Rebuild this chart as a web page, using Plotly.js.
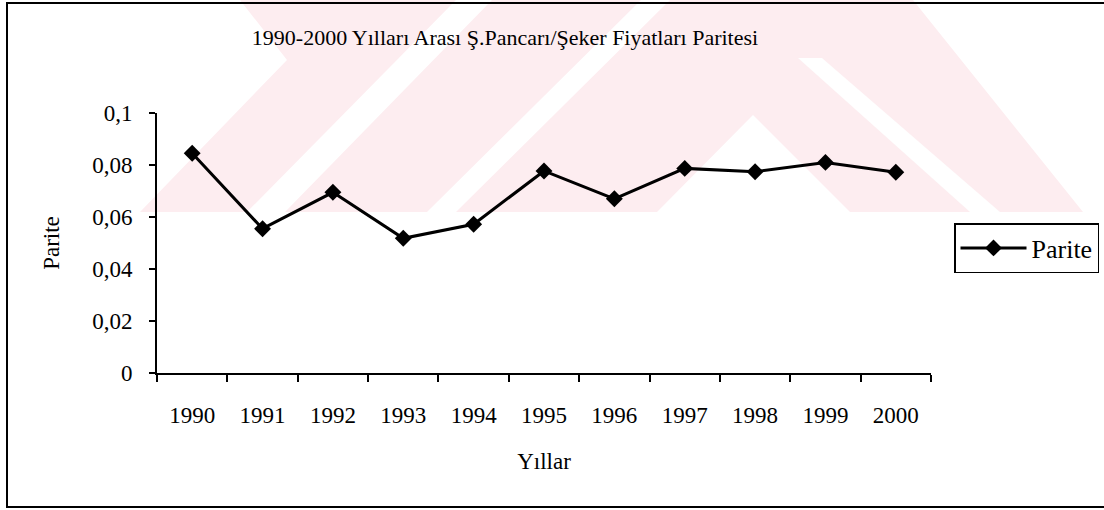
<!DOCTYPE html>
<html>
<head>
<meta charset="utf-8">
<script src="https://cdn.plot.ly/plotly-3.0.1.min.js"></script>
<style>
  html, body { margin: 0; padding: 0; background: #ffffff; }
  #chart { width: 1104px; height: 510px; }
</style>
</head>
<body>
<div id="chart"></div>
<script>
// ---- data ----
const years = ['1990','1991','1992','1993','1994','1995','1996','1997','1998','1999','2000'];
const parite = [0.0845, 0.0555, 0.0695, 0.0518, 0.0572, 0.0777, 0.0670, 0.0787, 0.0774, 0.0810, 0.0772];
const seriesName = 'Parite';
const chartTitle = '1990-2000 Yılları Arası Ş.Pancarı/Şeker Fiyatları Paritesi';
const xTitle = 'Yıllar';
const yTitle = 'Parite';
const yTicks = [0, 0.02, 0.04, 0.06, 0.08, 0.1];

// ---- layout geometry (pixels of the 1104x510 page) ----
const W = 1104, H = 510;
const L = 157, R = 931, T = 113, B = 373;
const pw = R - L, ph = B - T;
const px = x => (x - L) / pw;
const py = y => (B - y) / ph;
const poly = pts => 'M' + pts.map(p => px(p[0]) + ',' + py(p[1])).join(' L') + ' Z';

const pink = '#fdedf0';
const shapes = [
  // faint watermark
  {type:'path', xref:'paper', yref:'paper', layer:'below', line:{width:0}, fillcolor:pink,
   path: poly([[140,212],[287,60],[240,0],[913,0],[1083,212]])},
  {type:'path', xref:'paper', yref:'paper', layer:'below', line:{width:0}, fillcolor:'#ffffff',
   path: poly([[247,212],[285,212],[492,0],[456,0]])},
  {type:'path', xref:'paper', yref:'paper', layer:'below', line:{width:0}, fillcolor:'#ffffff',
   path: poly([[427,212],[456,212],[670,0],[641,0]])},
  {type:'path', xref:'paper', yref:'paper', layer:'below', line:{width:0}, fillcolor:'#ffffff',
   path: poly([[657,212],[753,115],[850,212]])},
  {type:'path', xref:'paper', yref:'paper', layer:'below', line:{width:0}, fillcolor:'#ffffff',
   path: poly([[798,58],[822,58],[1000,212],[970,212]])},
  // outer frame
  {type:'rect', xref:'paper', yref:'paper', layer:'above',
   x0: px(7), x1: px(1112), y0: py(507), y1: py(3),
   line:{color:'#000000', width:2}, fillcolor:'rgba(0,0,0,0)'}
];

const font = 'Liberation Serif, Times New Roman, serif';

const trace = {
  x: years,
  y: parite,
  type: 'scatter',
  mode: 'lines+markers',
  name: seriesName,
  line: {color:'#000000', width:3},
  marker: {symbol:'diamond', size:13, color:'#000000'},
  cliponaxis: false
};

const layout = {
  width: W, height: H,
  margin: {l: L, r: W - R, t: T, b: H - B, pad: 0, autoexpand: false},
  paper_bgcolor: '#ffffff',
  plot_bgcolor: 'rgba(0,0,0,0)',
  separators: ', ',
  font: {family: font, color:'#000000', size: 22},
  title: {
    text: chartTitle,
    font: {family: font, size: 22, color:'#000000'},
    xref: 'paper', x: px(505), xanchor: 'center',
    yref: 'container', y: 1 - 37 / H, yanchor: 'middle'
  },
  xaxis: {
    type: 'category',
    range: [-0.5, years.length - 0.5],
    autorange: false,
    showline: true, linecolor:'#000000', linewidth: 2,
    ticks: 'outside', tickson: 'boundaries', ticklen: 7, tickwidth: 2, tickcolor:'#000000',
    ticklabelstandoff: 20,
    tickfont: {family: font, size: 23},
    showgrid: false, zeroline: false,
    title: {text: xTitle, font: {family: font, size: 23}, standoff: 26}
  },
  yaxis: {
    range: [0, 0.1],
    autorange: false,
    tickvals: yTicks,
    showline: true, linecolor:'#000000', linewidth: 2,
    ticks: 'outside', ticklen: 6, tickwidth: 2, tickcolor:'#000000',
    ticklabelstandoff: 12,
    tickfont: {family: font, size: 23},
    showgrid: false, zeroline: false,
    title: {text: yTitle, font: {family: font, size: 23}, standoff: 26}
  },
  showlegend: true,
  legend: {
    x: px(954), xanchor: 'left',
    y: py(223), yanchor: 'top',
    bgcolor: '#ffffff', bordercolor: '#000000', borderwidth: 1.5,
    font: {family: font, size: 26},
    itemwidth: 66
  },
  shapes: shapes
};

Plotly.newPlot('chart', [trace], layout, {displayModeBar: false, staticPlot: true});
</script>
</body>
</html>
